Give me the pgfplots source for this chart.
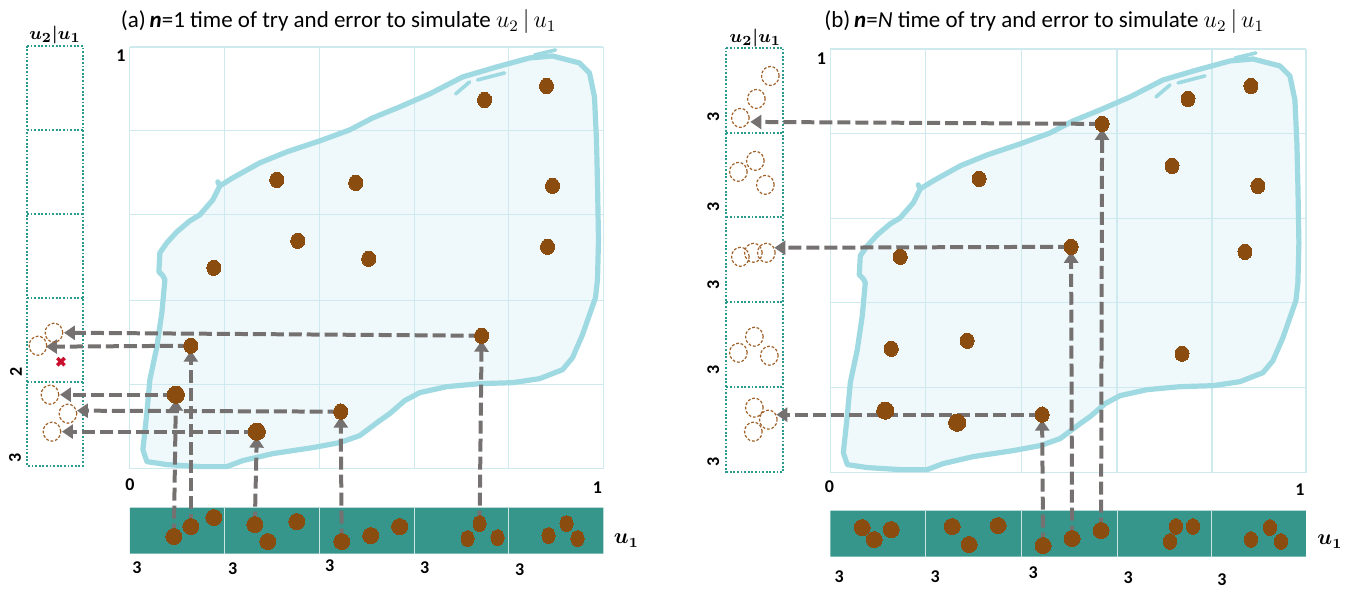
\documentclass[border=0pt]{standalone}
\usepackage{amsmath}
\usepackage{pgfplots}
\pgfplotsset{compat=1.18}
\usepackage{fontspec}
\setmainfont{Carlito}
\usetikzlibrary{arrows.meta}
\definecolor{gridc}{HTML}{CFEAEF}
\definecolor{blobfill}{HTML}{EFF8FA}
\definecolor{blobline}{HTML}{9FD9E1}
\definecolor{dotc}{HTML}{8B4C0F}
\definecolor{arrowc}{HTML}{767171}
\definecolor{tealbar}{HTML}{36968B}
\definecolor{boxc}{HTML}{2A9A8C}
\definecolor{circc}{HTML}{A0612A}
\definecolor{xred}{HTML}{C8102E}
\pgfplotsset{
  arr/.style={arrowc, line width=2pt, dash pattern=on 6.5pt off 2.5pt, -{Triangle[length=5.5pt,width=7pt]}},
  dots/.style={dotc, only marks, mark=*, mark size=3.5pt, mark options={draw=dotc, fill=dotc, line width=0pt, yscale=1.1}},
  bigdots/.style={dotc, only marks, mark=*, mark size=4.3pt, mark options={draw=dotc, fill=dotc, line width=0pt}},
  bardots/.style={dotc, only marks, mark=*, mark size=4pt, mark options={draw=dotc, fill=dotc, line width=0pt}},
  smbardots/.style={dotc, only marks, mark=*, mark size=3.3pt, mark options={draw=dotc, fill=dotc, line width=0pt, yscale=1.2}},
  circs/.style={circc, only marks, mark=o, mark size=4.4pt, mark options={draw=circc, line width=0.6pt, dash pattern=on 1.4pt off 0.9pt, yscale=1.08}},
}
\tikzset{lbl/.style={font=\fontsize{9}{10}\selectfont\bfseries}}
\begin{document}
\begin{tikzpicture}
\begin{axis}[scale only axis, width=674.5pt, height=293.5pt,
  xmin=0, xmax=1349, ymin=0, ymax=587, y dir=reverse,
  hide axis, clip=false, unbounded coords=jump]
\path (axis cs:0,0) rectangle (axis cs:1349,587);
% ---------- blob fills
\addplot[fill=blobfill, draw=none] coordinates {
(220,186) (233,178) (260,163) (287,152) (320,141) (350,130) (373,118) (400,107) (430,94) (463,77) (497,67) (530,58) (553,56) (580,63) (590,73) (595,97) (597,140) (598,183) (599,240) (598,280) (596,298) (590,315) (583,335) (573,358) (563,370) (540,379) (513,383) (480,384) (447,387) (420,393) (405,401) (390,414) (380,421) (360,436) (340,443) (313,448) (273,454) (243,461) (227,467) (200,467) (167,465) (147,462) (143,450) (147,413) (150,380) (157,347) (162,313) (165,280) (163,276) (159,272) (160,253) (167,243) (177,232) (190,221) (200,215) (213,200) (220,186)};
\addplot[fill=blobfill, draw=none] coordinates {
(921,189) (934,181) (961,166) (988,155) (1021,144) (1051,133) (1074,121) (1101,110) (1131,97) (1164,80) (1198,70) (1231,61) (1254,59) (1281,66) (1291,76) (1296,100) (1298,143) (1299,186) (1300,243) (1299,283) (1297,301) (1291,318) (1284,338) (1274,361) (1264,373) (1241,382) (1214,386) (1181,387) (1148,390) (1121,396) (1106,404) (1091,417) (1081,424) (1061,439) (1041,446) (1014,451) (974,457) (944,464) (928,470) (901,470) (868,468) (848,465) (844,453) (848,416) (851,383) (858,350) (863,316) (866,283) (864,279) (860,275) (861,256) (868,246) (878,235) (891,224) (901,218) (914,203) (921,189)};
% ---------- grids
\addplot[gridc, line width=0.6pt] coordinates {
(130,47) (130,469) (nan,nan) (225,47) (225,469) (nan,nan) (320,47) (320,469) (nan,nan) (415,47) (415,469) (nan,nan) (509,47) (509,469) (nan,nan) (604,47) (604,469) (nan,nan)
(130,47) (604,47) (nan,nan) (130,131) (604,131) (nan,nan) (130,215) (604,215) (nan,nan) (130,301) (604,301) (nan,nan) (130,385) (604,385) (nan,nan) (130,469) (604,469)};
\addplot[gridc, line width=0.6pt] coordinates {
(831,49) (831,473) (nan,nan) (926,49) (926,473) (nan,nan) (1022,49) (1022,473) (nan,nan) (1118,49) (1118,473) (nan,nan) (1213,49) (1213,473) (nan,nan) (1307,49) (1307,473) (nan,nan)
(831,49) (1307,49) (nan,nan) (831,134) (1307,134) (nan,nan) (831,219) (1307,219) (nan,nan) (831,303) (1307,303) (nan,nan) (831,388) (1307,388) (nan,nan) (831,473) (1307,473)};
% ---------- blob outlines
\addplot[blobline, line width=2.6pt, line join=round, line cap=round] coordinates {
(220,186) (233,178) (260,163) (287,152) (320,141) (350,130) (373,118) (400,107) (430,94) (463,77) (497,67) (530,58) (553,56) (580,63) (590,73) (595,97) (597,140) (598,183) (599,240) (598,280) (596,298) (590,315) (583,335) (573,358) (563,370) (540,379) (513,383) (480,384) (447,387) (420,393) (405,401) (390,414) (380,421) (360,436) (340,443) (313,448) (273,454) (243,461) (227,467) (200,467) (167,465) (147,462) (143,450) (147,413) (150,380) (157,347) (162,313) (165,280) (163,276) (159,272) (160,253) (167,243) (177,232) (190,221) (200,215) (213,200) (220,186) (218,182)};
\addplot[blobline, line width=1.8pt, line cap=round] coordinates {(456,94) (470,82) (nan,nan) (478,80) (505,73) (nan,nan) (535,55) (556,50)};
\addplot[blobline, line width=2.6pt, line join=round, line cap=round] coordinates {
(921,189) (934,181) (961,166) (988,155) (1021,144) (1051,133) (1074,121) (1101,110) (1131,97) (1164,80) (1198,70) (1231,61) (1254,59) (1281,66) (1291,76) (1296,100) (1298,143) (1299,186) (1300,243) (1299,283) (1297,301) (1291,318) (1284,338) (1274,361) (1264,373) (1241,382) (1214,386) (1181,387) (1148,390) (1121,396) (1106,404) (1091,417) (1081,424) (1061,439) (1041,446) (1014,451) (974,457) (944,464) (928,470) (901,470) (868,468) (848,465) (844,453) (848,416) (851,383) (858,350) (863,316) (866,283) (864,279) (860,275) (861,256) (868,246) (878,235) (891,224) (901,218) (914,203) (921,189) (919,185)};
\addplot[blobline, line width=1.8pt, line cap=round] coordinates {(1157,97) (1171,85) (nan,nan) (1179,83) (1206,76) (nan,nan) (1236,58) (1257,53)};
% ---------- bottom bars
\addplot[fill=tealbar, draw=none] coordinates {(130,508) (604,508) (604,554) (130,554) (130,508)};
\addplot[white!75!tealbar, line width=0.5pt] coordinates {(225,508) (225,554) (nan,nan) (320,508) (320,554) (nan,nan) (415,508) (415,554) (nan,nan) (509,508) (509,554)};
\addplot[fill=tealbar, draw=none] coordinates {(831,511) (1307,511) (1307,557) (831,557) (831,511)};
\addplot[white!75!tealbar, line width=0.5pt] coordinates {(926,511) (926,557) (nan,nan) (1022,511) (1022,557) (nan,nan) (1118,511) (1118,557) (nan,nan) (1213,511) (1213,557)};
% ---------- left dotted columns
\addplot[boxc, line width=0.9pt, dash pattern=on 0.9pt off 0.9pt] coordinates {(27,46) (83,46) (83,466) (27,466) (27,46) (nan,nan) (27,130) (83,130) (nan,nan) (27,214) (83,214) (nan,nan) (27,298) (83,298) (nan,nan) (27,382) (83,382)};
\addplot[boxc, line width=0.9pt, dash pattern=on 0.9pt off 0.9pt] coordinates {(727,48) (784,48) (784,472) (727,472) (727,48) (nan,nan) (727,133) (784,133) (nan,nan) (727,217) (784,217) (nan,nan) (727,302) (784,302) (nan,nan) (727,387) (784,387)};
% ---------- arrows (a)
\addplot[arr] coordinates {(174,537) (176,400)};
\addplot[arr] coordinates {(191,527) (191,351)};
\addplot[arr] coordinates {(255,525) (257,437)};
\addplot[arr] coordinates {(342,542) (341,417)};
\addplot[arr] coordinates {(480,524) (482,341)};
\addplot[arr] coordinates {(482,336) (64,333)};
\addplot[arr] coordinates {(191,346) (46,347)};
\addplot[arr] coordinates {(176,395) (60,395)};
\addplot[arr] coordinates {(341,412) (77,411)};
\addplot[arr] coordinates {(257,432) (62,432)};
% ---------- arrows (b)
\addplot[arr] coordinates {(1044,546) (1043,420)};
\addplot[arr] coordinates {(1073,539) (1072,252)};
\addplot[arr] coordinates {(1102,531) (1103,129)};
\addplot[arr] coordinates {(1103,124) (751,122)};
\addplot[arr] coordinates {(1072,247) (775,248)};
\addplot[arr] coordinates {(1043,415) (777,415)};
% ---------- dots (a)
\addplot[dots] coordinates {(277,180) (356,183) (298,241) (369,259) (214,268) (485,100) (547,86) (553,186) (548,247) (191,346) (341,412) (482,336)};
\addplot[bigdots] coordinates {(176,395) (257,432)};
\addplot[bardots] coordinates {(174,537) (191,527) (214,518) (255,525) (268,542) (297,522) (342,542) (371,536) (400,527)};
\addplot[smbardots] coordinates {(480,524) (468,539) (498,538) (567,524) (549,536) (578,539)};
% ---------- dots (b)
\addplot[dots] coordinates {(1103,124) (1189,99) (1252,86) (980,179) (1173,166) (1259,186) (1072,247) (901,257) (1246,252) (892,349) (968,341) (1183,354) (1043,415)};
\addplot[bigdots] coordinates {(886,411) (958,423)};
\addplot[bardots] coordinates {(863,528) (892,530) (875,540) (953,527) (999,526) (970,545) (1044,546) (1073,539) (1102,531)};
\addplot[smbardots] coordinates {(1177,527) (1194,527) (1171,542) (1271,528) (1252,540) (1282,542)};
% ---------- dashed circles
\addplot[circs] coordinates {(54,333) (38,346) (50,395) (68,414) (52,432)};
\addplot[circs] coordinates {(771,76) (757,99) (741,118) (756,161) (739,172) (766,185) (741,257) (754,253) (767,253) (755,337) (739,353) (770,356) (755,408) (769,420) (754,432)};
\addplot[xred, only marks, mark=x, mark size=2.6pt, mark options={draw=xred, line width=1.7pt}] coordinates {(61,362)};
% ---------- texts
\node[anchor=west, font=\fontsize{11.5}{13}\selectfont] at (axis cs:114,22) {(a)\,\textbf{\textit{n}}=1 time of try and error to simulate $u_2\,|\,u_1$};
\node[anchor=west, font=\fontsize{11.5}{13}\selectfont] at (axis cs:818,22) {(b)\,\textbf{\textit{n}}=\textit{N} time of try and error to simulate $u_2\,|\,u_1$};
\node[font=\fontsize{9.5}{11}\selectfont] at (axis cs:55,35) {$\boldsymbol{u_2|u_1}$};
\node[font=\fontsize{9.5}{11}\selectfont] at (axis cs:756,38) {$\boldsymbol{u_2|u_1}$};
\node[lbl] at (axis cs:121,56) {1};
\node[lbl] at (axis cs:822,59) {1};
\node[lbl] at (axis cs:130,485) {0};
\node[lbl] at (axis cs:598,488) {1};
\node[lbl] at (axis cs:830,487) {0};
\node[lbl] at (axis cs:1301,490) {1};
\node[font=\fontsize{10.5}{12}\selectfont] at (axis cs:627,541) {$\boldsymbol{u_1}$};
\node[font=\fontsize{10.5}{12}\selectfont] at (axis cs:1331,542) {$\boldsymbol{u_1}$};
\node[lbl] at (axis cs:137,568) {3};
\node[lbl] at (axis cs:233,569) {3};
\node[lbl] at (axis cs:330,566) {3};
\node[lbl] at (axis cs:425,568) {3};
\node[lbl] at (axis cs:520,570) {3};
\node[lbl] at (axis cs:840,577) {3};
\node[lbl] at (axis cs:936,577) {3};
\node[lbl] at (axis cs:1034,573) {3};
\node[lbl] at (axis cs:1129,578) {3};
\node[lbl] at (axis cs:1223,580) {3};
\node[lbl, rotate=90] at (axis cs:16,372) {2};
\node[lbl, rotate=90] at (axis cs:15,458) {3};
\node[lbl, rotate=90] at (axis cs:714,117) {3};
\node[lbl, rotate=90] at (axis cs:714,207) {3};
\node[lbl, rotate=90] at (axis cs:714,285) {3};
\node[lbl, rotate=90] at (axis cs:714,370) {3};
\node[lbl, rotate=90] at (axis cs:714,462) {3};
\end{axis}
\end{tikzpicture}
\end{document}
